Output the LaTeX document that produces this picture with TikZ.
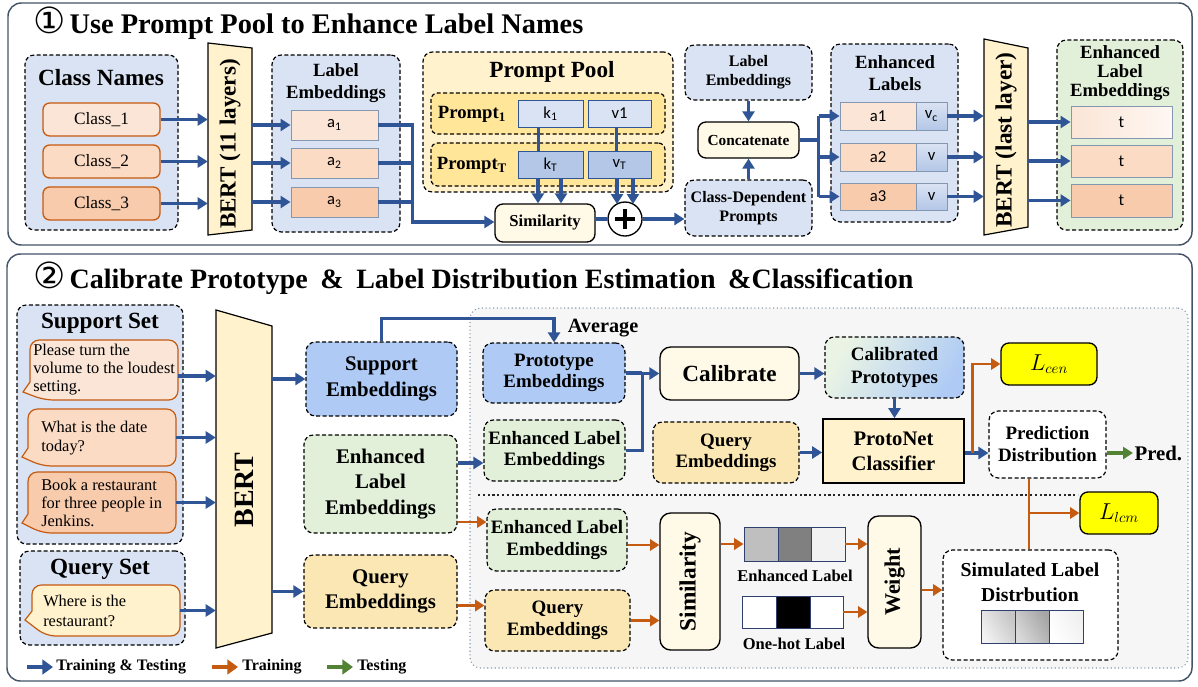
\documentclass[tikz,border=0pt]{standalone}
\usepackage{fontspec}
\setmainfont{Liberation Serif}
\newfontfamily\carl{Carlito}
\newfontfamily\dejavu{DejaVu Sans}
\usetikzlibrary{arrows.meta,calc}
\definecolor{cblue}{HTML}{2F5597}
\definecolor{corange}{HTML}{C55A11}
\definecolor{cgreen}{HTML}{548235}
\definecolor{lblue}{HTML}{DAE3F3}
\definecolor{lgreen}{HTML}{E2F0D9}
\definecolor{lyel}{HTML}{FFF2CC}
\definecolor{myel}{HTML}{FFE699}
\definecolor{qyel}{HTML}{FAE7B3}
\definecolor{cream}{HTML}{FFF9E8}
\definecolor{or1}{HTML}{FBE5D6}
\definecolor{or2}{HTML}{FCDBC4}
\definecolor{or3}{HTML}{F8CBAD}
\definecolor{kblue}{HTML}{B4C7E7}
\definecolor{sblue}{HTML}{AFCBF5}
\definecolor{frm}{HTML}{44546A}
\definecolor{cellbd}{HTML}{8497B0}
\definecolor{ingray}{HTML}{F6F6F6}
\definecolor{lyellow}{HTML}{FFFF00}
\definecolor{bard}{HTML}{2F3F6F}
\newcommand{\fz}[2]{\fontsize{#1pt}{#2pt}\selectfont}
\tikzset{
  corners/.style args={#1/#2/#3/#4}{at={({(#1+#3)/2},{(#2+#4)/2})}, minimum width={(#3-#1)*0.75pt}, minimum height={(#4-#2)*0.75pt}},
  ba/.style={draw=cblue, line width=2.4pt, -{Triangle[length=7.5pt,width=9pt]}},
  bl/.style={draw=cblue, line width=2.4pt},
  oa/.style={draw=corange, line width=2.2pt, -{Triangle[length=7pt,width=8.5pt]}},
  ol/.style={draw=corange, line width=2.2pt},
  ga/.style={draw=cgreen, line width=2.4pt, -{Triangle[length=7.5pt,width=9pt]}},
  lga/.style={line width=3pt, -{Triangle[length=8pt,width=11pt]}},
  dbox/.style={draw=black, dash pattern=on 3pt off 1.8pt, line width=0.9pt, rounded corners=7pt, inner sep=0pt, align=center},
  sbox/.style={draw=black, line width=1pt, rounded corners=6pt, inner sep=0pt, align=center, fill=cream},
  ebox/.style={draw=cellbd, line width=0.7pt, inner sep=0pt, font=\carl\fz{12.5}{14}},
  rbox/.style={draw=corange, line width=1pt, rounded corners=5pt, inner sep=0pt, font=\fz{13}{15}},
  txt/.style={inner sep=0pt, align=center},
  ltxt/.style={inner sep=0pt, align=left, anchor=west},
  trap/.style={draw=black, line width=0.9pt, fill=lyel},
  bub/.style={draw=corange, line width=0.9pt},
  ghost/.style={inner sep=0pt},
  cellb/.style={draw=bard, line width=0.7pt, inner sep=0pt},
}
\begin{document}
\begin{tikzpicture}[x=0.75pt,y=-0.75pt]
\useasboundingbox (0,0) rectangle (1198,686);
\fill[white] (0,0) rectangle (1198,686);

%================ PANEL 1 =================
\node[draw=frm, line width=1.1pt, rounded corners=10pt, corners=8/3/1192/245, inner sep=0pt] (p1) {};
\node[anchor=west, inner sep=0pt, font=\bfseries\fz{21.3}{24}] (t1) at (33,23) {{\dejavu\mdseries\fz{27}{27}①}\hspace{3pt}Use Prompt Pool to Enhance Label Names};

% Class names
\node[dbox, fill=lblue, corners=25/55/178/230] (cn) {};
\node[txt, font=\bfseries\fz{17.4}{20}] (cnt) at (101,78) {Class Names};
\node[rbox, fill=or1, corners=43/103/160/136] (c1) {Class\_1};
\node[rbox, fill=or2, corners=43/145/160/178] (c2) {Class\_2};
\node[rbox, fill=or3, corners=43/187/160/220] (c3) {Class\_3};

% BERT 11 layers
\draw[trap] (208,43) -- (252,48) -- (252,230) -- (208,235) -- cycle;
\node[ghost, corners=208/53/252/235, font=\bfseries\fz{17.3}{20}] (bert1) {\rotatebox{90}{BERT (11 layers)}};

% Label embeddings
\node[dbox, fill=lblue, corners=272/55/400/232] (le) {};
\node[txt, font=\bfseries\fz{14}{17}] (let) at (336,83) {Label\\Embeddings};
\node[ebox, fill=or1, corners=291/110/378/140] (a1) {a\textsubscript{1}};
\node[ebox, fill=or2, corners=291/148/378/178] (a2) {a\textsubscript{2}};
\node[ebox, fill=or3, corners=291/187/378/217] (a3) {a\textsubscript{3}};

\draw[ba] (c1.east) -- (c1.east -| bert1.west);
\draw[ba] (c2.east) -- (c2.east -| bert1.west);
\draw[ba] (c3.east) -- (c3.east -| bert1.west);
\draw[ba] (a1.west -| bert1.east) -- (a1.west);
\draw[ba] (a2.west -| bert1.east) -- (a2.west);
\draw[ba] (a3.west -| bert1.east) -- (a3.west);

% Prompt pool
\node[dbox, fill=lyel, corners=423/52/673/192] (pp) {};
\node[txt, font=\bfseries\fz{17.4}{20}] (ppt) at (552,72) {Prompt Pool};
\node[dbox, fill=myel, rounded corners=5pt, corners=431/93/665/134] (pr1) {};
\node[txt, font=\bfseries\fz{14}{17}] (pr1t) at (472,114) {Prompt\textsubscript{1}};
\node[ebox, fill=lblue, draw=cblue, corners=518/100/583/127] (k1) {k\textsubscript{1}};
\node[ebox, fill=lblue, draw=cblue, corners=588/100/651/127] (v1) {v1};
\node[dbox, fill=myel, rounded corners=5pt, corners=431/143/665/186] (prT) {};
\node[txt, font=\bfseries\fz{14}{17}] (prTt) at (472,165) {Prompt\textsubscript{T}};
\node[ebox, fill=kblue, draw=cblue, corners=518/151/583/178] (kT) {k\textsubscript{T}};
\node[ebox, fill=kblue, draw=cblue, corners=588/151/651/178] (vT) {v\textsubscript{T}};

\node[sbox, corners=495/204/595/242, font=\bfseries\fz{12.5}{15}] (sim) {Similarity};
\node[circle, draw=black, line width=1pt, fill=white, minimum size=25.5pt, inner sep=0pt] (pl) at (625,219) {};
\draw[line width=2.6pt] ($(pl.center)+(-10,0)$) -- ($(pl.center)+(10,0)$);
\draw[line width=2.6pt] ($(pl.center)+(0,-10)$) -- ($(pl.center)+(0,10)$);

\draw[bl] ($(k1.south)+(-12,0)$) -- ($(kT.north)+(-12,0)$);
\draw[bl] ($(v1.south)+(-3,0)$) -- ($(vT.north)+(-3,0)$);
\coordinate (ka) at ($(kT.south)+(-12.5,0)$);
\coordinate (kb) at ($(kT.south)+(10.5,0)$);
\draw[ba] (ka) -- (ka |- sim.north);
\draw[ba] (kb) -- (kb |- sim.north);
\draw[ba] ($(vT.south)+(-2.5,0)$) -- ($(pl.center)+(-8,-15)$);
\draw[ba] ($(vT.south)+(13.5,0)$) -- ($(pl.center)+(8,-15)$);

\coordinate (j1) at ($(sim.west)+(-82,-1)$);
\draw[bl] (a2.east) -- (a2.east -| j1);
\draw[bl] (a3.east) -- (a3.east -| j1);
\draw[ba] (a1.east) -| (j1) -- (j1 -| sim.west);

% concatenate block
\node[dbox, fill=lblue, corners=685/45/812/100, font=\bfseries\fz{12}{14.5}] (le2) {Label\\Embeddings};
\node[sbox, corners=698/122/799/158, font=\bfseries\fz{11.5}{14}] (cc) {Concatenate};
\node[dbox, fill=lblue, corners=685/180/812/236, font=\bfseries\fz{12}{14.5}] (cdp) {Class-Dependent\\Prompts};
\draw[ba] (le2.south) -- (cc.north);
\draw[ba] (cdp.north) -- (cc.south);
\draw[bl] (pl.west -| sim.east) -- (pl.west);
\draw[ba] (pl.east) -- (pl.east -| cdp.west);

% Enhanced labels
\node[dbox, fill=lblue, corners=831/44/958/222] (el) {};
\node[txt, font=\bfseries\fz{14}{17}] (elt) at (895,73) {Enhanced\\Labels};
\node[ebox, fill=or1, corners=840/102/916/130] (ea1) {a1};
\node[ebox, top color=lblue, bottom color=kblue, corners=916/102/947/130] (vc1) {v\textsubscript{c}};
\node[ebox, fill=or2, corners=840/143/916/171] (ea2) {a2};
\node[ebox, top color=lblue, bottom color=kblue, corners=916/143/947/171] (vc2) {v};
\node[ebox, fill=or3, corners=840/183/916/210] (ea3) {a3};
\node[ebox, top color=lblue, bottom color=kblue, corners=916/183/947/210] (vc3) {v};

\coordinate (j2) at ($(cc.east)+(19,0)$);
\draw[bl] (cc.east) -- (j2);
\draw[bl] (j2 |- ea1.west) -- (j2 |- ea3.west);
\draw[ba] (j2 |- ea1.west) -- (ea1.west);
\draw[ba] (j2 |- ea2.west) -- (ea2.west);
\draw[ba] (j2 |- ea3.west) -- (ea3.west);

% BERT last layer
\draw[trap] (984,39) -- (1028,48) -- (1028,227) -- (984,235) -- cycle;
\node[ghost, corners=984/48/1028/232, font=\bfseries\fz{17.5}{20}] (bert2) {\rotatebox{90}{BERT (last layer)}};

% Enhanced label embeddings
\node[dbox, fill=lgreen, corners=1057/40/1183/230] (ele) {};
\node[txt, font=\bfseries\fz{14}{14.3}] (elet) at (1120,73) {Enhanced\\Label\\Embeddings};
\node[ebox, left color=or1, right color=or1!30!white, corners=1071/106/1172/138] (t1b) {t};
\node[ebox, left color=or2, middle color=or2!35!white, right color=or2, corners=1071/145/1172/177] (t2b) {t};
\node[ebox, left color=or3, middle color=or1, right color=or3, corners=1071/184/1172/217] (t3b) {t};

\draw[ba] (vc1.east) -- (vc1.east -| bert2.west);
\draw[ba] (vc2.east) -- (vc2.east -| bert2.west);
\draw[ba] (vc3.east) -- (vc3.east -| bert2.west);
\draw[ba] (t1b.west -| bert2.east) -- (t1b.west);
\draw[ba] (t2b.west -| bert2.east) -- (t2b.west);
\draw[ba] (t3b.west -| bert2.east) -- (t3b.west);

%================ PANEL 2 =================
\node[draw=frm, line width=1.1pt, rounded corners=10pt, corners=7/254/1192/681, inner sep=0pt] (p2) {};
\node[anchor=west, inner sep=0pt, font=\bfseries\fz{21}{24}] (t2) at (33,278) {{\dejavu\mdseries\fz{27}{27}②}\hspace{3pt}Calibrate Prototype\hspace{0.45em}\&\hspace{0.45em}Label Distribution Estimation\hspace{0.45em}\&Classification};

% Support set
\node[dbox, fill=lblue, corners=17/305/183/544] (ss) {};
\node[txt, font=\bfseries\fz{17.4}{20}] (sst) at (100,323) {Support Set};
\draw[bub, fill=or1] (30,382) [rounded corners=7pt] -- (30,340) -- (178,340) -- (178,400) -- (44,400) [sharp corners] -- (23,392) -- cycle;
\node[ghost, corners=30/340/178/400] (bub1) {};
\node[ltxt, font=\fz{12.3}{13.5}] (bub1t) at (33,370) {Please turn the\\volume to the loudest\\setting.};
\draw[bub, fill=or2] (28,448) [rounded corners=7pt] -- (28,409) -- (176,409) -- (176,466) -- (42,466) [sharp corners] -- (22,457) -- cycle;
\node[ghost, corners=28/409/176/466] (bub2) {};
\node[ltxt, font=\fz{12.3}{14.5}] (bub2t) at (41,438) {What is the date\\today?};
\draw[bub, fill=or3] (28,514) [rounded corners=7pt] -- (28,472) -- (176,472) -- (176,533) -- (42,533) [sharp corners] -- (22,523) -- cycle;
\node[ghost, corners=28/472/176/533] (bub3) {};
\node[ltxt, font=\fz{12.3}{13.8}] (bub3t) at (41,503) {Book a restaurant\\for three people in\\Jenkins.};

\node[dbox, fill=lblue, corners=20/551/185/645] (qs) {};
\node[txt, font=\bfseries\fz{17.4}{20}] (qst) at (100,569) {Query Set};
\draw[bub, fill=lyel] (32,611) [rounded corners=7pt] -- (32,585) -- (180,585) -- (180,636) -- (46,636) [sharp corners] -- (25,620) -- cycle;
\node[ghost, corners=32/585/180/636] (bub4) {};
\node[ltxt, font=\fz{12.3}{14.5}] (bub4t) at (43,611) {Where is the\\restaurant?};

% BERT
\draw[trap] (216,310) -- (272,326) -- (272,633) -- (216,648) -- cycle;
\node[ghost, corners=216/347/272/633, font=\bfseries\fz{21}{24}] (bert3) {\rotatebox{90}{BERT}};

\coordinate (q1) at ($(bub1.east)+(0,6)$);
\draw[ba] (q1) -- (q1 -| bert3.west);
\draw[ba] (bub2.east) -- (bub2.east -| bert3.west);
\draw[ba] (bub3.east) -- (bub3.east -| bert3.west);
\draw[ba] (bub4.east) -- (bub4.east -| bert3.west);

% left embeddings
\node[dbox, fill=sblue, corners=306/342/457/416, font=\bfseries\fz{15.6}{19.5}] (se) {Support\\Embeddings};
\node[dbox, fill=lgreen, corners=304/435/457/533, font=\bfseries\fz{15.6}{19}] (lele) {Enhanced\\Label\\Embeddings};
\node[dbox, fill=qyel, corners=304/555/457/628, font=\bfseries\fz{15.6}{19}] (qe) {Query\\Embeddings};
\draw[ba] (se.west -| bert3.east) -- (se.west);
\draw[ba] (qe.west -| bert3.east) -- (qe.west);

% inner region
\node[draw=cellbd, dotted, line width=0.8pt, rounded corners=8pt, fill=ingray, corners=470/308/1188/668, inner sep=0pt] (inner) {};
\draw[line width=1.6pt, dotted, black!85] (478,495) -- (1078,495);

% upper inner
\node[dbox, fill=sblue, corners=483/343/625/403, font=\bfseries\fz{14.2}{16}] (pe) {Prototype\\Embeddings};
\node[dbox, fill=lgreen, corners=484/420/625/481, font=\bfseries\fz{14.2}{16}] (elei) {Enhanced Label\\Embeddings};
\node[sbox, rounded corners=8pt, corners=660/347/799/400, font=\bfseries\fz{17.4}{20}] (cal) {Calibrate};
\node[dbox, left color=lgreen!70!white, right color=sblue, shading angle=60, corners=825/337/964/398, font=\bfseries\fz{14.2}{17}] (cp) {Calibrated\\Prototypes};
\node[draw=black, line width=1.3pt, fill=lyel, inner sep=0pt, align=center, corners=823/419/964/483, font=\bfseries\fz{15.5}{18.75}] (pn) {ProtoNet\\Classifier};
\node[dbox, fill=qyel, corners=653/422/799/483, font=\bfseries\fz{14.2}{16}] (qi) {Query\\Embeddings};
\node[txt, font=\bfseries\fz{15.2}{18}] (avg) at (603,328) {Average};

\draw[ba] (se.north) -- ++(0,-23) -| (pe.north);
\coordinate (lo1) at ($(lele.east)+(0,-21)$);
\draw[ba] (lo1) -- (lo1 -| elei.west);
\coordinate (j3) at ($(cal.west)+(-17,0)$);
\draw[bl] (pe.east) -- (pe.east -| j3);
\draw[bl] (elei.east) -| (j3);
\draw[ba] (j3) -- (cal.west);
\draw[ba] (cal.east) -- (cal.east -| cp.west);
\draw[ba] (cp.south) -- (cp.south |- pn.north);
\draw[ba] (qi.east) -- (qi.east -| pn.west);

% outputs
\node[sbox, fill=lyellow, corners=1001/343/1097/385, font=\fz{16}{18}] (lcen) {$L_{cen}$};
\node[dbox, fill=white, corners=989/411/1106/478, font=\bfseries\fz{14.2}{16.5}] (pd) {Prediction\\Distribution};
\node[anchor=west, inner sep=1pt, font=\bfseries\fz{15.6}{18}] (pred) at (1133,453) {Pred.};
\node[sbox, fill=lyellow, corners=1080/492/1158/534, font=\fz{16}{18}] (llcm) {$L_{lcm}$};
\node[dbox, fill=white, corners=943/550/1118/660] (sld) {};
\node[txt, font=\bfseries\fz{14.8}{18.75}] (sldt) at (1030,582) {Simulated Label\\Distrbution};
\node[cellb, left color=gray!10, right color=gray!45, shading angle=120, corners=981/610/1015/643] (s1) {};
\node[cellb, left color=gray!30, right color=gray!70, shading angle=120, corners=1015/610/1049/643] (s2) {};
\node[cellb, left color=white, right color=gray!12, shading angle=120, corners=1049/610/1083/643] (s3) {};

\draw[ba] (pred.west -| pn.east) -- (pred.west -| pd.west);
\coordinate (j4) at ($(pn.east)+(8,0)$);
\draw[oa] ($(j4)+(0,1.5)$) |- (lcen.west);
\draw[ga] (pred.west -| pd.east) -- (pred.west);
\coordinate (j5) at (1029,513);
\draw[ol] (j5 |- pd.south) -- (j5 |- sld.north);
\draw[oa] (j5) -- (j5 -| llcm.west);

% lower inner
\node[dbox, fill=lgreen, corners=487/509/627/571, font=\bfseries\fz{14.2}{16.5}] (ele2) {Enhanced Label\\Embeddings};
\node[dbox, fill=qyel, corners=485/590/630/651, font=\bfseries\fz{14.2}{16.5}] (q2) {Query\\Embeddings};
\node[sbox, rounded corners=8pt, corners=660/513/720/650, font=\bfseries\fz{17.5}{20}] (sim2) {\rotatebox{90}{Similarity}};
\node[cellb, fill=gray!50, corners=744/527/778/561] (b1a) {};
\node[cellb, fill=gray, corners=778/527/811/561] (b1b) {};
\node[cellb, fill=gray!10, corners=811/527/845/561] (b1c) {};
\node[txt, font=\bfseries\fz{12.4}{14}] (lab1) at (795,576) {Enhanced Label};
\node[cellb, fill=white, corners=742/596/776/628] (b2a) {};
\node[cellb, fill=black, corners=776/596/810/628] (b2b) {};
\node[cellb, fill=white, corners=810/596/843/628] (b2c) {};
\node[txt, font=\bfseries\fz{12.4}{14}] (lab2) at (794,644) {One-hot Label};
\node[sbox, rounded corners=8pt, corners=868/516/921/648, font=\bfseries\fz{16.6}{20}] (wt) {\rotatebox{90}{Weight}};

\coordinate (lo2) at ($(lele.east)+(0,38)$);
\draw[oa] (lo2) -- (lo2 -| ele2.west);
\coordinate (lo3) at ($(qe.east)+(0,14)$);
\draw[oa] (lo3) -- (lo3 -| q2.west);
\coordinate (lo4) at ($(ele2.east)+(0,5)$);
\draw[oa] (lo4) -- (lo4 -| sim2.west);
\draw[oa] (q2.east) -- (q2.east -| sim2.west);
\draw[oa] (b1a.west -| sim2.east) -- (b1a.west);
\draw[oa] (b1c.east) -- (b1c.east -| wt.west);
\draw[oa] (b2c.east) -- (b2c.east -| wt.west);
\coordinate (lo5) at ($(wt.east)+(0,8)$);
\draw[oa] (lo5) -- (lo5 -| sld.west);

% legend
\node[anchor=west, inner sep=0pt, font=\bfseries\fz{12}{14}] (lg1) at (56,667) {Training \& Testing};
\node[anchor=west, inner sep=0pt, font=\bfseries\fz{12}{14}] (lg2) at (242,667) {Training};
\node[anchor=west, inner sep=0pt, font=\bfseries\fz{12}{14}] (lg3) at (357,667) {Testing};
\coordinate (lg1s) at ($(lg1.west)+(-29,0)$);
\coordinate (lg2s) at ($(lg2.west)+(-30,0)$);
\coordinate (lg3s) at ($(lg3.west)+(-30,0)$);
\draw[lga, draw=cblue] (lg1s) -- ($(lg1.west)+(-3,0)$);
\draw[lga, draw=corange] (lg2s) -- ($(lg2.west)+(-4,0)$);
\draw[lga, draw=cgreen] (lg3s) -- ($(lg3.west)+(-4,0)$);
\end{tikzpicture}
\end{document}
